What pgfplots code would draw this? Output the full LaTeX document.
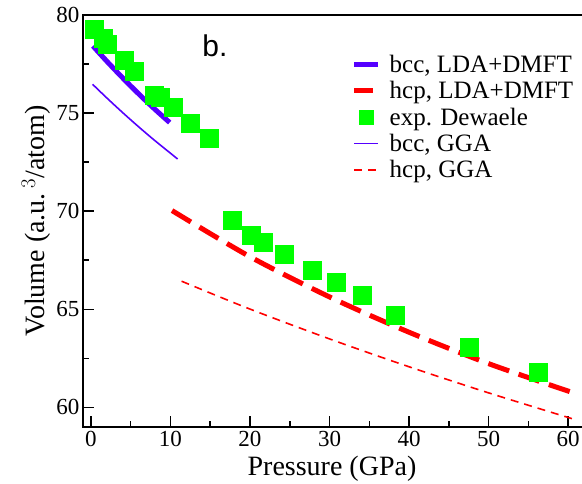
\documentclass[border=0pt]{standalone}
\usepackage{fontspec}
\setmainfont{Liberation Serif}
\newfontfamily\sansb{Liberation Sans}
\usepackage{pgfplots}
\pgfplotsset{compat=1.18}
\definecolor{vblue}{RGB}{85,0,255}
\definecolor{vgreen}{RGB}{0,255,0}
\definecolor{vred}{RGB}{255,0,0}
\pgfplotsset{
 lineleg/.style={legend image code/.code={\draw[##1] (0pt,0pt) -- (#1,0pt);}},
 markleg/.style={legend image code/.code={\draw[##1, mark size=7pt] plot coordinates {(12pt,0pt)};}},
}
\begin{document}
\begin{tikzpicture}
\begin{axis}[
 scale only axis, width=501pt, height=412pt,
 xmin=-1, xmax=62, ymin=59, ymax=80,
 xtick={0,10,...,60}, ytick={60,65,...,80},
 minor xtick={5,15,...,55}, minor ytick={62.5,67.5,72.5,77.5},
 tick align=inside, xtick pos=left, ytick pos=left,
 major tick length=11pt, minor tick length=6pt,
 axis line style={line width=2pt},
 every tick/.style={black, line width=1.5pt},
 tick label style={font=\rmfamily\fontsize{23}{23}\selectfont},
 xticklabel style={yshift=-3pt, inner ysep=1pt},
 /pgf/number format/assume math mode=true,
 xlabel={Pressure (GPa)}, ylabel={Volume (a.u.\,$^{3}$/atom)},
 label style={font=\rmfamily\fontsize{28}{28}\selectfont},
 xlabel style={at={(axis description cs:0.497,-0.102)},anchor=center, inner sep=0pt},
 ylabel style={at={(axis description cs:-0.094,0.5)},anchor=center},
 legend style={draw=none, fill=none, at={(axis description cs:0.53,0.913)}, anchor=north west,
   font=\rmfamily\fontsize{25}{27}\selectfont, row sep=3.5pt,
   /tikz/every odd column/.append style={column sep=7pt}},
 legend cell align=left,
]
% bcc LDA+DMFT
\addplot[vblue, line width=5pt, smooth, lineleg=24pt]
 coordinates {(0.25,78.42) (2,77.64) (4,76.79) (6,75.98) (8,75.21) (9.9,74.52)};
\addlegendentry{bcc, LDA+DMFT}
% hcp LDA+DMFT
\addplot[vred, line width=5pt, dash pattern=on 22pt off 10pt, smooth, lineleg=19pt]
 coordinates {(10.2,70.03) (20,67.68) (30,65.63) (40,63.83) (50,62.23) (60.6,60.75)};
\addlegendentry{hcp, LDA+DMFT}
% exp Dewaele
\addplot[only marks, mark=square*, mark size=9pt, mark options={fill=vgreen, draw=vgreen}, markleg]
 coordinates {(0.38,79.27) (1.6,78.81) (2.05,78.52) (4.15,77.71) (5.5,77.12) (7.9,75.93) (8.7,75.81)
 (10.35,75.29) (12.45,74.49) (14.9,73.73) (17.8,69.52) (20.2,68.77) (21.7,68.42) (24.3,67.79)
 (27.85,67.0) (30.9,66.39) (34.05,65.73) (38.2,64.69) (47.6,63.08) (56.3,61.77)};
\addlegendentry{exp. Dewaele}
% bcc GGA
\addplot[vblue, line width=1.6pt, smooth, lineleg=24pt]
 coordinates {(0.2,76.47) (2,75.77) (4,75.02) (6,74.30) (8,73.61) (10.9,72.66)};
\addlegendentry{bcc, GGA}
% hcp GGA
\addplot[vred, line width=1.6pt, dash pattern=on 8pt off 6pt, smooth, lineleg=24pt]
 coordinates {(11.4,66.43) (20,65.01) (30,63.49) (40,62.07) (50,60.74) (61.1,59.35)};
\addlegendentry{hcp, GGA}
\node[font=\sansb\fontsize{30}{30}\selectfont] at (axis cs:15.6,78.45) {b.};
\end{axis}
\pgfresetboundingbox
\path (current axis.south west) ++(-83pt,-57pt) rectangle ++(582pt,484pt);
\end{tikzpicture}
\end{document}
